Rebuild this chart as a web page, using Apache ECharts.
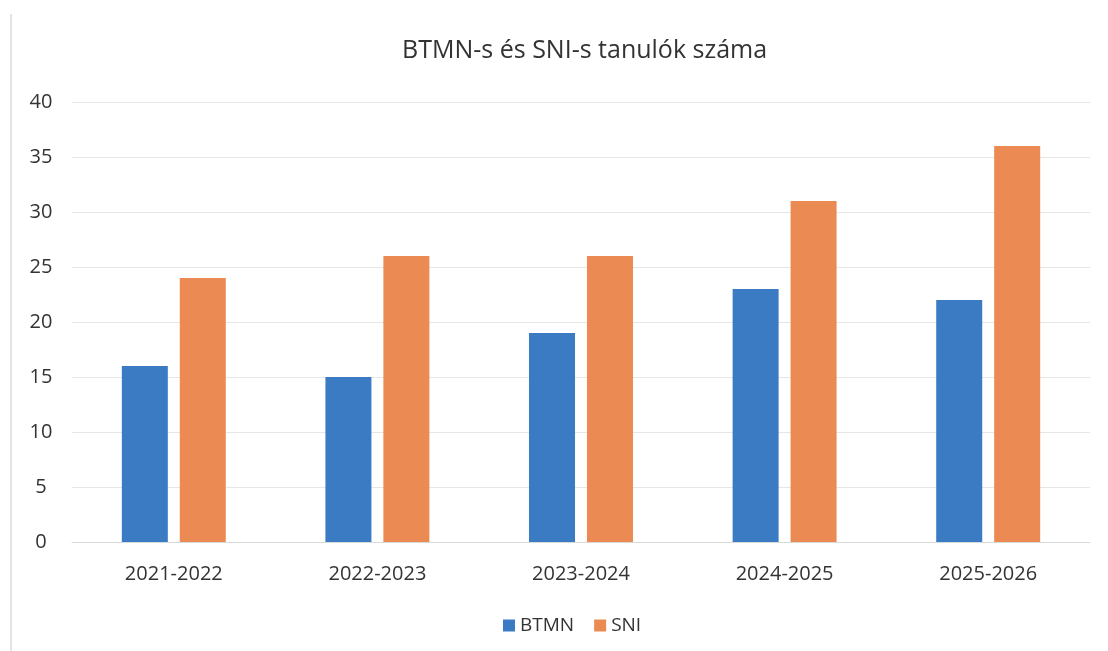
<!DOCTYPE html>
<html>
<head>
<meta charset="utf-8">
<script src="https://cdn.jsdelivr.net/npm/echarts@6/dist/echarts.min.js"></script>
<style>
  html, body { margin: 0; padding: 0; background: #fff; }
  #chart { width: 1108px; height: 651px; }
</style>
</head>
<body>
<div id="chart"></div>
<script>
  var categories = ['2021-2022', '2022-2023', '2023-2024', '2024-2025', '2025-2026']
  var btmn = [16, 15, 19, 23, 22]
  var sni = [24, 26, 26, 31, 36]
  var yTicks = { min: 0, max: 40, interval: 5 }

  var chart = echarts.init(document.getElementById('chart'))
  var font = '"Open Sans", "Noto Sans", sans-serif'
  var option = {
    backgroundColor: '#fff',
    title: {
      text: 'BTMN-s és SNI-s tanulók száma',
      left: 397,
      top: 33,
      textStyle: { color: '#333', fontSize: 25, fontWeight: 'normal', fontFamily: font }
    },
    legend: {
      top: 611,
      left: 498,
      itemWidth: 12,
      itemHeight: 12,
      itemGap: 20,
      icon: 'rect',
      textStyle: { color: '#333', fontSize: 19, fontFamily: font }
    },
    grid: { left: 72, right: 18, top: 102, bottom: 109 },
    xAxis: {
      type: 'category',
      data: categories,
      axisLine: { lineStyle: { color: '#d9d9d9' } },
      axisTick: { show: false },
      axisLabel: { color: '#333', fontSize: 20, margin: 22, fontFamily: font }
    },
    yAxis: {
      type: 'value',
      min: yTicks.min,
      max: yTicks.max,
      interval: yTicks.interval,
      axisLine: { show: false },
      axisTick: { show: false },
      splitLine: { lineStyle: { color: '#e6e6e6' } },
      axisLabel: { color: '#333', fontSize: 20, margin: 31, fontFamily: font, align: 'center' }
    },
    graphic: [{
      type: 'line',
      shape: { x1: 11, y1: 14, x2: 11, y2: 651 },
      style: { stroke: '#e4e4e4', lineWidth: 2 }
    }],
    series: [
      {
        name: 'BTMN',
        type: 'bar',
        data: btmn,
        barWidth: 46,
        barGap: '26%',
        itemStyle: { color: '#3a7bc4' }
      },
      {
        name: 'SNI',
        type: 'bar',
        data: sni,
        barWidth: 46,
        itemStyle: { color: '#eb8a52' }
      }
    ]
  }
  chart.setOption(option)
</script>
</body>
</html>
